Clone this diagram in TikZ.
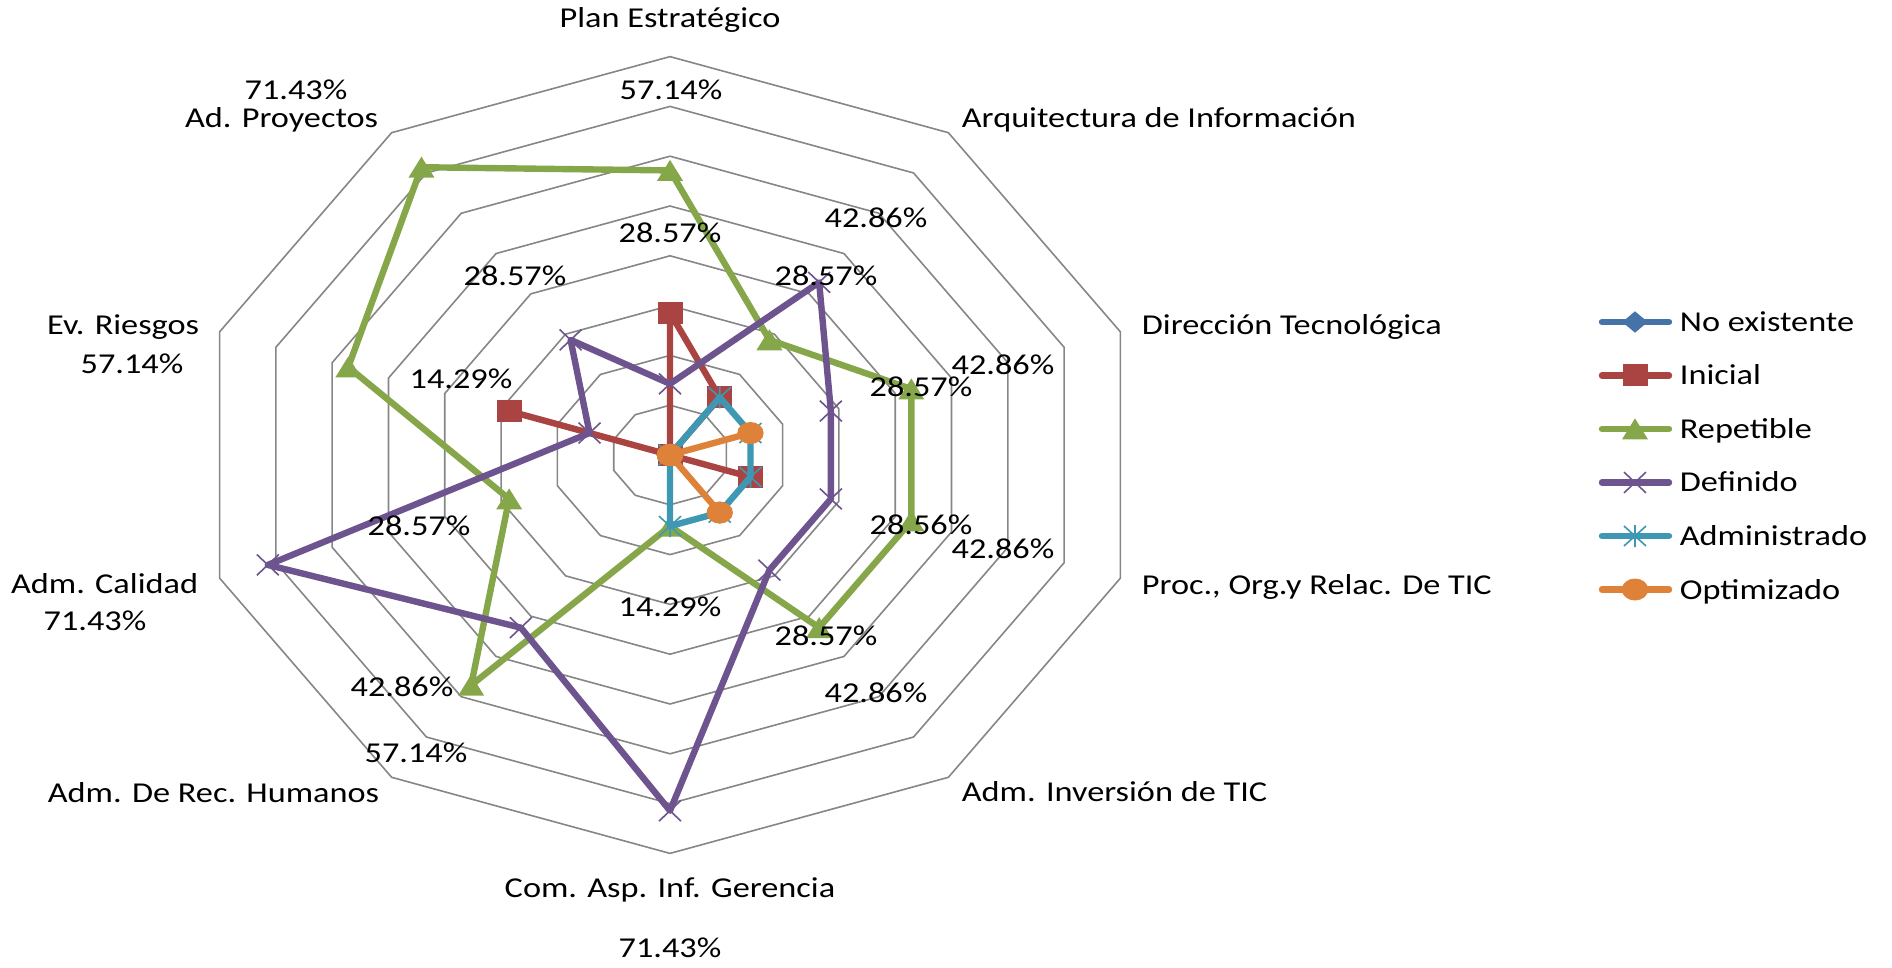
\documentclass[tikz,border=0pt]{standalone}
\usepackage{fontspec}
\setmainfont{Carlito}
\usetikzlibrary{shapes.geometric}

\definecolor{cNoex}{RGB}{69,114,167}
\definecolor{cIni}{RGB}{170,68,66}
\definecolor{cRep}{RGB}{134,166,74}
\definecolor{cDef}{RGB}{110,84,143}
\definecolor{cAdm}{RGB}{62,152,179}
\definecolor{cOpt}{RGB}{222,130,58}
\definecolor{cGrid}{RGB}{134,134,134}

\tikzset{every picture/.style={line width=0.75pt}}
\tikzset{
  lbl/.style={font=\fontsize{14.4}{17}\selectfont, xscale=1.19, inner sep=0pt},
  ring/.style={draw=cGrid, line width=0.8pt},
  serie/.style={line width=3.2pt, line join=round, line cap=round},
  mk sq/.style={rectangle, fill=cIni, minimum width=12.5pt, minimum height=11pt, inner sep=0pt},
  mk dot/.style={circle, fill=cOpt, minimum size=11pt, inner sep=0pt, xscale=1.2},
  mk dia/.style={diamond, fill=cNoex, minimum width=13pt, minimum height=11pt, inner sep=0pt},
  pics/trimark/.style={code={\fill[cRep] (-6.5pt,-5.2pt) -- (6.5pt,-5.2pt) -- (0,5.3pt) -- cycle;}},
  pics/xmark/.style={code={\draw[cDef, line width=0.8pt] (-5.5pt,-5.2pt) -- (5.5pt,5.2pt) (-5.5pt,5.2pt) -- (5.5pt,-5.2pt);}},
  pics/starmark/.style={code={\draw[cAdm, line width=0.8pt] (-5.5pt,-5pt) -- (5.5pt,5pt) (-5.5pt,5pt) -- (5.5pt,-5pt) (0,-5.5pt) -- (0,5.5pt);}},
}

\begin{document}
\begin{tikzpicture}[x=0.5pt,y=0.5pt,yscale=-1,xscale=1]
\useasboundingbox (0,0) rectangle (1892,968);

\begin{scope}[shift={(670,455)},x=296pt,y=249pt]
% anillos 10% .. 80%
\foreach \r in {1,...,8}
  \draw[ring] (-90:\r/10) \foreach \k in {1,...,9} {-- (36*\k-90:\r/10)} -- cycle;

% No existente
\foreach \ang [count=\i] in {-90,-54,...,234}
  \node[mk dia] (noex-\i) at (\ang:0) {};

% Inicial
\draw[serie,cIni] (-90:.2857) -- (-54:.1429) -- (-18:0) -- (18:.1429) -- (54:0) -- (90:0) -- (126:0) -- (162:0) -- (198:.2857) -- (234:0) -- cycle;
\foreach \ang/\val [count=\i] in {-90/.2857,-54/.1429,-18/0,18/.1429,54/0,90/0,126/0,162/0,198/.2857,234/0}
  \node[mk sq] (ini-\i) at (\ang:\val) {};

% Repetible
\draw[serie,cRep] (-90:.5714) -- (-54:.2857) -- (-18:.4286) -- (18:.4286) -- (54:.4286) -- (90:.1429) -- (126:.5714) -- (162:.2857) -- (198:.5714) -- (234:.7143) -- cycle;
\foreach \ang/\val [count=\i] in {-90/.5714,-54/.2857,-18/.4286,18/.4286,54/.4286,90/.1429,126/.5714,162/.2857,198/.5714,234/.7143}
  \pic (rep-\i) at (\ang:\val) {trimark};

% Definido
\draw[serie,cDef] (-90:.1429) -- (-54:.4286) -- (-18:.2857) -- (18:.2857) -- (54:.2857) -- (90:.7143) -- (126:.4286) -- (162:.7143) -- (198:.1429) -- (234:.2857) -- cycle;
\foreach \ang/\val [count=\i] in {-90/.1429,-54/.4286,-18/.2857,18/.2857,54/.2857,90/.7143,126/.4286,162/.7143,198/.1429,234/.2857}
  \pic (def-\i) at (\ang:\val) {xmark};

% Administrado
\draw[serie,cAdm] (-90:0) -- (-54:.1429) -- (-18:.1429) -- (18:.1429) -- (54:.1429) -- (90:.1429) -- (126:0) -- (162:0) -- (198:0) -- (234:0) -- cycle;
\foreach \ang/\val [count=\i] in {-90/0,-54/.1429,-18/.1429,18/.1429,54/.1429,90/.1429,126/0,162/0,198/0,234/0}
  \pic (adm-\i) at (\ang:\val) {starmark};

% Optimizado
\draw[serie,cOpt] (-90:0) -- (-54:0) -- (-18:.1429) -- (18:0) -- (54:.1429) -- (90:0) -- (126:0) -- (162:0) -- (198:0) -- (234:0) -- cycle;
\foreach \ang/\val [count=\i] in {-90/0,-54/0,-18/.1429,18/0,54/.1429,90/0,126/0,162/0,198/0,234/0}
  \node[mk dot] (opt-\i) at (\ang:\val) {};
\end{scope}

% categorias
\node[lbl,anchor=base] (cat-pe) at (670,28) {Plan Estratégico};
\node[lbl,anchor=base west] (cat-ai) at (961,128) {Arquitectura de Información};
\node[lbl,anchor=base west] (cat-dt) at (1141,335) {Dirección Tecnológica};
\node[lbl,anchor=base west] (cat-po) at (1141,594) {Proc., Org.y Relac. De TIC};
\node[lbl,anchor=base west] (cat-ai2) at (961,801) {Adm. Inversión de TIC};
\node[lbl,anchor=base] (cat-ca) at (670,897) {Com. Asp. Inf. Gerencia};
\node[lbl,anchor=base east] (cat-rh) at (380,802) {Adm. De Rec. Humanos};
\node[lbl,anchor=base east] (cat-ac) at (199,593) {Adm. Calidad};
\node[lbl,anchor=base east] (cat-er) at (200,335) {Ev. Riesgos};
\node[lbl,anchor=base east] (cat-ap) at (379,128) {Ad. Proyectos};

% porcentajes
\node[lbl,anchor=base] (pct-1) at (671,100) {57.14\%};
\node[lbl,anchor=base] (pct-2) at (670,243) {28.57\%};
\node[lbl,anchor=base] (pct-3) at (876,228) {42.86\%};
\node[lbl,anchor=base] (pct-4) at (826,286) {28.57\%};
\node[lbl,anchor=base] (pct-5) at (1003,375) {42.86\%};
\node[lbl,anchor=base] (pct-6) at (921,397) {28.57\%};
\node[lbl,anchor=base] (pct-7) at (921,534) {28.56\%};
\node[lbl,anchor=base] (pct-8) at (1003,558) {42.86\%};
\node[lbl,anchor=base] (pct-9) at (826,645) {28.57\%};
\node[lbl,anchor=base] (pct-10) at (876,702) {42.86\%};
\node[lbl,anchor=base] (pct-11) at (670,616) {14.29\%};
\node[lbl,anchor=base] (pct-12) at (670,957) {71.43\%};
\node[lbl,anchor=base] (pct-13) at (402,696) {42.86\%};
\node[lbl,anchor=base] (pct-14) at (416,762) {57.14\%};
\node[lbl,anchor=base] (pct-15) at (419,535) {28.57\%};
\node[lbl,anchor=base] (pct-16) at (95,630) {71.43\%};
\node[lbl,anchor=base] (pct-17) at (461,389) {14.29\%};
\node[lbl,anchor=base] (pct-18) at (132,374) {57.14\%};
\node[lbl,anchor=base] (pct-19) at (515,286) {28.57\%};
\node[lbl,anchor=base] (pct-20) at (296,100) {71.43\%};

% leyenda
\draw[serie,cNoex] (1602,322) -- (1669,322);
\node[mk dia] (leg-noex) at (1635,322) {};
\node[lbl,anchor=base west] (txt-noex) at (1679,331.5) {No existente};

\draw[serie,cIni] (1602,375.5) -- (1669,375.5);
\node[mk sq] (leg-ini) at (1635,375.5) {};
\node[lbl,anchor=base west] (txt-ini) at (1679,385) {Inicial};

\draw[serie,cRep] (1602,429) -- (1669,429);
\pic (leg-rep) at (1635,429) {trimark};
\node[lbl,anchor=base west] (txt-rep) at (1679,438.5) {Repetible};

\draw[serie,cDef] (1602,482.5) -- (1669,482.5);
\pic (leg-def) at (1635,482.5) {xmark};
\node[lbl,anchor=base west] (txt-def) at (1679,492) {Definido};

\draw[serie,cAdm] (1602,536) -- (1669,536);
\pic (leg-adm) at (1635,536) {starmark};
\node[lbl,anchor=base west] (txt-adm) at (1679,545.5) {Administrado};

\draw[serie,cOpt] (1602,589.5) -- (1669,589.5);
\node[mk dot] (leg-opt) at (1635,589.5) {};
\node[lbl,anchor=base west] (txt-opt) at (1679,599) {Optimizado};

\end{tikzpicture}
\end{document}
